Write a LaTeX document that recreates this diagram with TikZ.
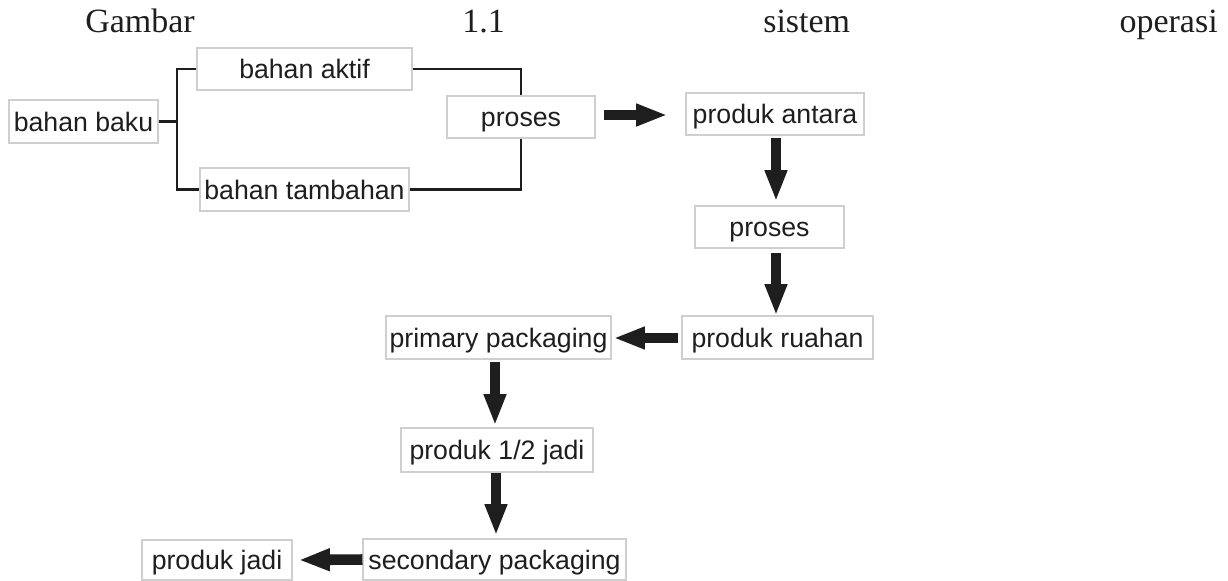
\documentclass[tikz,border=0pt]{standalone}
\usepackage{fontspec}
\usetikzlibrary{arrows.meta,calc}
\newfontfamily\arialf{Liberation Sans}
\newfontfamily\timesf{Liberation Serif}
\definecolor{boxline}{HTML}{CFCFCF}
\definecolor{ink}{HTML}{1E1E1E}
\begin{document}
\begin{tikzpicture}[x=0.75pt,y=-0.75pt,
  box/.style={draw=boxline,line width=0.8pt,fill=white,inner sep=0pt,
    font=\arialf\fontsize{20pt}{22pt}\selectfont,text=ink,
    text height=14.3pt,text depth=0pt,align=center},
  link/.style={draw=ink,line width=2pt},
  bigarrow/.style={draw=ink,line width=7.9pt,
    -{Triangle[length=23.5pt,width=15.5pt]}},
  title/.style={font=\timesf\fontsize{25.5pt}{28pt}\selectfont,text=ink,inner sep=0pt}]
\useasboundingbox (0,0) rectangle (1228,581);
% title line
\node[title,anchor=base west] (t1) at (85,33) {Gambar};
\node[title,anchor=base west] (t2) at (462,33) {1.1};
\node[title,anchor=base west] (t3) at (763,33) {sistem};
\node[title,anchor=base east] (t4) at (1218,33) {operasi};
% boxes
\node[box,minimum width=149*0.75pt,minimum height=43*0.75pt] (baku) at (83.5,121.5) {bahan baku};
\node[box,minimum width=215*0.75pt,minimum height=42*0.75pt] (aktif) at (304.5,69) {bahan aktif};
\node[box,minimum width=209*0.75pt,minimum height=43*0.75pt] (tambahan) at (304.5,189.5) {bahan tambahan};
\node[box,minimum width=148*0.75pt,minimum height=42*0.75pt] (proses1) at (521,117) {proses};
\node[box,minimum width=178*0.75pt,minimum height=42*0.75pt] (antara) at (775,114) {produk antara};
\node[box,minimum width=149*0.75pt,minimum height=42*0.75pt] (proses2) at (769.5,227) {proses};
\node[box,minimum width=191*0.75pt,minimum height=43*0.75pt] (ruahan) at (777.5,337.5) {produk ruahan};
\node[box,minimum width=225*0.75pt,minimum height=43*0.75pt] (primary) at (498.5,337.5) {primary packaging};
\node[box,minimum width=192*0.75pt,minimum height=44*0.75pt] (half) at (497,450) {produk 1/2 jadi};
\node[box,minimum width=263*0.75pt,minimum height=41*0.75pt] (secondary) at (494.5,559.5) {secondary packaging};
\node[box,minimum width=150*0.75pt,minimum height=40*0.75pt] (jadi) at (217,560) {produk jadi};
% bracket connectors
\coordinate (bx) at (177,121.5);
\draw[link] (baku.east) -- (bx);
\draw[link] (aktif.west) -| (bx |- tambahan.west) -- (tambahan.west);
\draw[link] (aktif.east) -| (proses1.north);
\draw[link] (tambahan.east) -| (proses1.south);
% block arrows
\draw[bigarrow] ($(proses1.east)+(8,-2)$) -- ($(antara.west)+(-18,1)$);
\draw[bigarrow] ($(antara.south)+(1,2)$) -- ($(proses2.north)+(6.5,-4)$);
\draw[bigarrow] ($(proses2.south)+(6.5,4)$) -- ($(ruahan.north)+(-1.5,0)$);
\draw[bigarrow] ($(ruahan.west)+(-3,0.5)$) -- ($(primary.east)+(2,0.5)$);
\draw[bigarrow] ($(primary.south)+(-3.5,2)$) -- ($(half.north)+(-2,-2)$);
\draw[bigarrow] ($(half.south)+(-1,0)$) -- ($(secondary.north)+(1.5,-3)$);
\draw[bigarrow] (secondary.west) -- ($(jadi.east)+(6,0)$);
\end{tikzpicture}
\end{document}
